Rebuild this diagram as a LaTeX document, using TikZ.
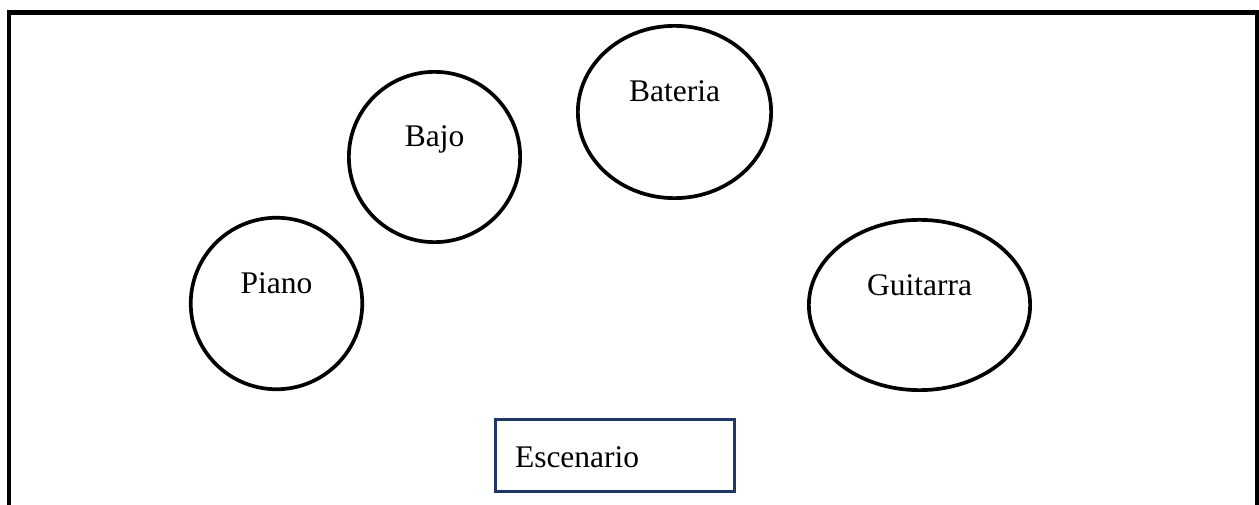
\documentclass[tikz,border=0pt]{standalone}
\usepackage{fontspec}
\setmainfont{Liberation Serif}
\usetikzlibrary{shapes.geometric}
\definecolor{stageblue}{HTML}{1F3864}
\begin{document}
\begin{tikzpicture}[x=1pt,y=-1pt,
  inst/.style={ellipse, draw=black, line width=3.7pt, inner sep=0pt,
    text height=0pt, text depth=20pt, font=\fontsize{31.5}{36}\selectfont},
  stagebox/.style={rectangle, draw=stageblue, line width=2.6pt,
    minimum width=239.4pt, minimum height=72.4pt, inner xsep=19.7pt, inner ysep=0pt,
    text width=200pt, align=left, text height=23pt, text depth=0pt,
    font=\fontsize{31.5}{36}\selectfont},
  frameline/.style={line width=4.4pt, draw=black}
  ]
\useasboundingbox (0,0) rectangle (1259,505);
\coordinate (fbl) at (9,512);
\coordinate (ftl) at (9,12.5);
\coordinate (ftr) at (1257,12.5);
\coordinate (fbr) at (1257,512);
\draw[frameline] (fbl) -- (ftl) -- (ftr) -- (fbr);
\node[inst, minimum width=171.5pt, minimum height=171.5pt] (piano) at (276.5,303.5) {Piano};
\node[inst, minimum width=171.3pt, minimum height=170.3pt] (bajo) at (434.5,157) {Bajo};
\node[inst, minimum width=193.3pt, minimum height=172.3pt] (bateria) at (674.5,112) {Bateria};
\node[inst, minimum width=221.3pt, minimum height=170.3pt] (guitarra) at (919.5,305) {Guitarra};
\node[stagebox] (stage) at (615,455.5) {Escenario};
\end{tikzpicture}
\end{document}
